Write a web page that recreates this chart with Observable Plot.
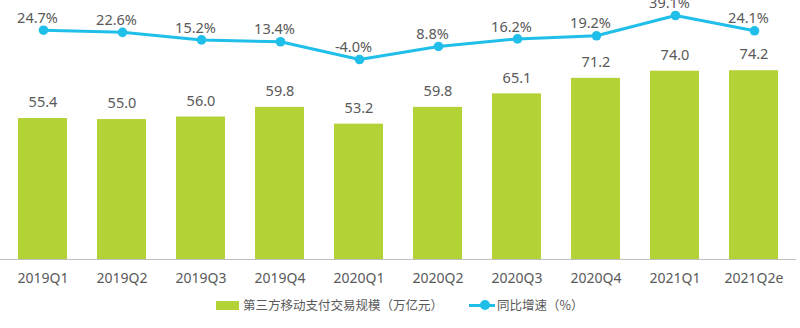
<!DOCTYPE html>
<html>
<head>
<meta charset="utf-8">
<script src="https://cdn.jsdelivr.net/npm/d3@7"></script>
<script src="https://cdn.jsdelivr.net/npm/@observablehq/plot@0.6"></script>
<style>
  html, body { margin: 0; padding: 0; background: #fff; }
  body { position: relative; width: 800px; height: 328px; overflow: hidden; font-family: "Noto Sans", "Noto Sans CJK SC", sans-serif; }
  #wrap { position: relative; width: 800px; height: 290px; }
  #wrap svg { position: absolute; left: 0; top: 0; }
  .lg { position: absolute; color: #595959; font-size: 12.5px; line-height: 14px; top: 298px; font-family: "Noto Sans CJK SC", "Noto Sans", sans-serif; white-space: nowrap; }
  .sw { position: absolute; left: 216px; top: 301px; width: 23px; height: 8.5px; background: #b2d235; }
  .ln { position: absolute; left: 469px; top: 303.5px; width: 26px; height: 3px; background: #1fbfea; }
  .dt { position: absolute; left: 480px; top: 300px; width: 10px; height: 10px; border-radius: 50%; background: #1fbfea; }
</style>
</head>
<body>
<div id="wrap"></div>
<div class="sw"></div>
<span class="lg" style="left:243px">第三方移动支付交易规模（万亿元）</span>
<div class="ln"></div>
<div class="dt"></div>
<span class="lg" style="left:497px">同比增速（%）</span>
<script>
const categories = ["2019Q1","2019Q2","2019Q3","2019Q4","2020Q1","2020Q2","2020Q3","2020Q4","2021Q1","2021Q2e"];
const scaleValues = [55.4, 55.0, 56.0, 59.8, 53.2, 59.8, 65.1, 71.2, 74.0, 74.2];
const growthValues = [24.7, 22.6, 15.2, 13.4, -4.0, 8.8, 16.2, 19.2, 39.1, 24.1];

const data = categories.map((c, i) => ({cat: c, value: scaleValues[i], growth: growthValues[i]}));

const font = '"Noto Sans", "Noto Sans CJK SC", sans-serif';
const xOpts = {domain: categories, paddingInner: 0.38, paddingOuter: 0.19, label: null};
const common = {width: 800, height: 290, marginTop: 0, marginBottom: 31, marginLeft: 0, marginRight: 4};

const bars = Plot.plot({
  ...common,
  style: {background: "transparent", fontFamily: font},
  x: xOpts,
  y: {domain: [0, 101.8], axis: null},
  marks: [
    Plot.barY(data, {x: "cat", y: "value", fill: "#b2d235"}),
    Plot.ruleY([0], {stroke: "#bfbfbf", strokeWidth: 1}),
    Plot.text(data, {x: "cat", y: "value", text: d => d.value.toFixed(1), dy: -16, fill: "#595959", fontSize: 14.5}),
    Plot.axisX({tickSize: 0, tickPadding: 14, fontSize: 14, color: "#595959", label: null})
  ]
});

const line = Plot.plot({
  ...common,
  style: {background: "transparent", fontFamily: font, overflow: "visible"},
  x: {...xOpts, axis: null},
  y: {domain: [-199.9, 53.8], axis: null},
  marks: [
    Plot.line(data, {x: "cat", y: "growth", stroke: "#1fbfea", strokeWidth: 3}),
    Plot.dot(data, {x: "cat", y: "growth", fill: "#1fbfea", r: 4.8}),
    Plot.text(data, {x: "cat", y: "growth", text: d => d.growth.toFixed(1) + "%", dx: -6, dy: -12, fill: "#595959", fontSize: 14.5})
  ]
});

const wrap = document.getElementById("wrap");
wrap.appendChild(bars);
wrap.appendChild(line);
</script>
</body>
</html>
